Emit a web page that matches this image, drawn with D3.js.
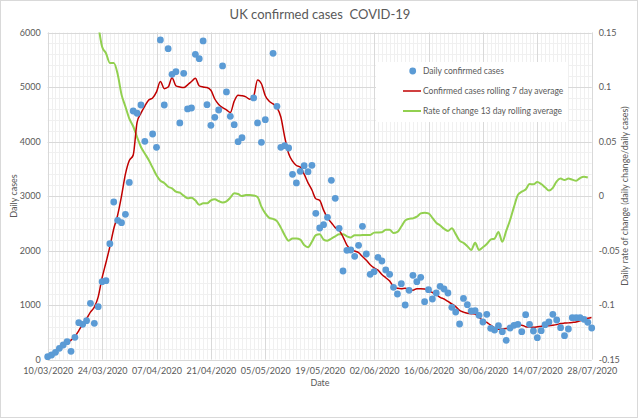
<!DOCTYPE html>
<html>
<head>
<meta charset="utf-8">
<script src="https://cdn.jsdelivr.net/npm/d3@7"></script>
<style>
  body { margin: 0; background: #fff; }
  svg text { font-family: Lato, "Open Sans", sans-serif; fill: #595959; }
</style>
</head>
<body>
<svg id="chart" width="640" height="419"></svg>
<script>
var width = 640;
var height = 419;

// days from 10/03/2020 to 28/07/2020
var firstDay = "10/03/2020";
var lastDay = "28/07/2020";

var dateTicks = ["10/03/2020", "24/03/2020", "07/04/2020", "21/04/2020", "05/05/2020",
  "19/05/2020", "02/06/2020", "16/06/2020", "30/06/2020", "14/07/2020", "28/07/2020"];
var caseTicks = [0, 1000, 2000, 3000, 4000, 5000, 6000];
var rateTicks = [-0.15, -0.1, -0.05, 0, 0.05, 0.1, 0.15];
var rateTickLabels = ["-0.15", "-0.1", "-0.05", "0", "0.05", "0.1", "0.15"];

// daily confirmed cases (null = off the chart / no marker)
var dailyCases = [51, 83, 132, 205, 266, 327, 150, 407, 676, 646,
  712, 1031, 664, 969, 1428, 1446, 2125, 2890, 2554, 2511,
  2664, 3250, 4560, 4518, 4670, 4004, null, 4138, 3894, 5863,
  4670, 5704, 5233, 5282, 4340, 5251, 4597, 4615, 5600, 5520,
  5845, 4676, 4297, 4444, 4578, 5386, 4909, 4462, 4309, 3997,
  4070, null, null, 4799, 4340, 3985, 4400, null, 5618, 4646,
  3894, 3924, 3881, 3398, 3239, 3453, 3557, 3447, 3563, 2682,
  2413, 2474, 2609, 3288, 2958, 2407, 1624, 2004, 2009, 1893,
  2095, 2444, 1936, 1563, 1611, 1875, 1807, 1642, 1563, 1325,
  1202, 1391, 1000, 1270, 1545, 1428, 1508, 1061, 1281, 1110,
  1220, 1343, 1294, 1220, 958, 872, 651, 1120, 1006, 890,
  896, 811, 688, 829, 572, 541, 620, 510, 352, 578,
  627, 646, 510, 822, 646, 523, 400, 529, 639, 688,
  829, 725, 584, 437, 560, 767, 767, 767, 738, 683,
  578];

// 7 day rolling average
var rollingAvg = [50, 100, 150, 200, 240, 300, 355, 420, 530, 650,
  750, 870, 960, 1150, 1500, 1780, 2070, 2400, 2650, 3000,
  3400, 3650, 3750, 4350, 4520, 4650, 4760, 4800, 4910, 5100,
  4970, 5000, 5170, 5020, 5000, 4990, 5040, 5100, 5160, 5020,
  5000, 4990, 4940, 4780, 4680, 4620, 4580, 4530, 4740, 4850,
  4840, 4820, 4775, 4830, 5130, 5060, 4840, 4740, 4690, 4620,
  4450, 4080, 3780, 3640, 3560, 3530, 3400, 3240, 3110, 2950,
  2920, 2740, 2600, 2510, 2420, 2370, 2250, 2100, 2020, 1990,
  1960, 1890, 1820, 1740, 1680, 1640, 1560, 1500, 1440, 1336,
  1306, 1300, 1306, 1285, 1270, 1300, 1300, 1294, 1260, 1230,
  1195, 1140, 1110, 1065, 1020, 970, 900, 870, 850, 840,
  835, 770, 720, 680, 630, 580, 555, 560, 570, 585,
  600, 625, 630, 602, 595, 592, 600, 612, 618, 620,
  628, 640, 660, 668, 672, 680, 690, 710, 738, 755,
  770];

// 13 day rolling average of rate of change, starts on day 13, ends day 139
var rateStart = 13;
var rateAvg = [0.158, 0.137, 0.131, 0.122, 0.122, 0.112, 0.093, 0.082, 0.071, 0.064,
  0.054, 0.045, 0.039, 0.033, 0.026, 0.019, 0.014, 0.012, 0.0085, 0.007,
  0.004, 0.003, 0.0003, -0.002, -0.0015, -0.004, -0.008, -0.0067, -0.0067, -0.004,
  -0.003, -0.0046, -0.006, -0.005, -0.0015, 0.0025, 0.0018, 0, 0.0009, 0.0009,
  0.0005, -0.001, -0.0098, -0.016, -0.020, -0.021, -0.023, -0.029, -0.036, -0.041,
  -0.039, -0.039, -0.040, -0.045, -0.047, -0.042, -0.036, -0.035, -0.040, -0.041,
  -0.039, -0.037, -0.035, -0.035, -0.037, -0.038, -0.036, -0.036, -0.0358, -0.0358,
  -0.0358, -0.0336, -0.0335, -0.0333, -0.031, -0.031, -0.034, -0.033, -0.028, -0.0225,
  -0.021, -0.0205, -0.019, -0.016, -0.0153, -0.016, -0.020, -0.0245, -0.027, -0.030,
  -0.032, -0.0297, -0.035, -0.041, -0.043, -0.046, -0.0495, -0.043, -0.0495, -0.047,
  -0.044, -0.040, -0.039, -0.033, -0.042, -0.032, -0.022, -0.010, 0.001, 0.004,
  0.006, 0.011, 0.0107, 0.0128, 0.011, 0.008, 0.005, 0.0075, 0.0135, 0.016,
  0.0147, 0.016, 0.015, 0.014, 0.0165, 0.0177, 0.017];

var legendNames = ["Daily confirmed cases", "Confirmed cases rolling 7 day average",
  "Rate of change 13 day rolling average"];

var parseDay = d3.timeParse("%d/%m/%Y");
var fmtDay = d3.timeFormat("%d/%m/%Y");
var days = d3.timeDay.range(parseDay(firstDay), d3.timeDay.offset(parseDay(lastDay), 1));

var plotL = 47.7, plotR = 591.7, plotT = 32.5, plotB = 359.5;

var x = d3.scaleTime()
  .domain([parseDay(firstDay), parseDay(lastDay)])
  .range([plotL, plotR]);

var y = d3.scaleLinear()
  .domain([0, 6000])
  .range([plotB, plotT]);

var y2 = d3.scaleLinear()
  .domain([-0.15, 0.15])
  .range([plotB, plotT]);

var svg = d3.select("#chart");

svg.append("rect")
  .attr("x", 0.5).attr("y", 0.5)
  .attr("width", width - 3).attr("height", height - 2)
  .attr("fill", "#fff").attr("stroke", "#d9d9d9");

svg.append("defs").append("clipPath").attr("id", "plotclip")
  .append("rect")
    .attr("x", plotL).attr("y", plotT)
    .attr("width", plotR - plotL).attr("height", plotB - plotT);

// minor gridlines
var grid = svg.append("g");
grid.selectAll(".vminor")
  .data(days)
  .enter().append("line")
    .attr("x1", function(d) { return Math.round(x(d)) + 0.5; })
    .attr("x2", function(d) { return Math.round(x(d)) + 0.5; })
    .attr("y1", plotT).attr("y2", plotB)
    .attr("stroke", "#f0f0f0");
grid.selectAll(".hminor")
  .data(d3.range(0, 6001, 200))
  .enter().append("line")
    .attr("x1", plotL).attr("x2", plotR)
    .attr("y1", function(d) { return Math.round(y(d)) + 0.5; })
    .attr("y2", function(d) { return Math.round(y(d)) + 0.5; })
    .attr("stroke", "#f0f0f0");

// major gridlines
grid.selectAll(".vmajor")
  .data(dateTicks)
  .enter().append("line")
    .attr("x1", function(d) { return Math.round(x(parseDay(d))) + 0.5; })
    .attr("x2", function(d) { return Math.round(x(parseDay(d))) + 0.5; })
    .attr("y1", plotT).attr("y2", plotB)
    .attr("stroke", "#d9d9d9");
grid.selectAll(".hmajor")
  .data(caseTicks)
  .enter().append("line")
    .attr("x1", plotL).attr("x2", plotR)
    .attr("y1", function(d) { return Math.round(y(d)) + 0.5; })
    .attr("y2", function(d) { return Math.round(y(d)) + 0.5; })
    .attr("stroke", "#d9d9d9");

// axes
var xAxis = d3.axisBottom(x)
  .tickValues(dateTicks.map(parseDay))
  .tickFormat(fmtDay)
  .tickSize(0).tickPadding(8);
var gx = svg.append("g").attr("transform", "translate(0," + plotB + ")").call(xAxis);

var yAxis = d3.axisLeft(y).tickValues(caseTicks).tickFormat(d3.format("d"))
  .tickSize(0).tickPadding(7);
var gy = svg.append("g").attr("transform", "translate(" + plotL + ",0)").call(yAxis);

var y2Axis = d3.axisRight(y2).tickValues(rateTicks)
  .tickFormat(function(d, i) { return rateTickLabels[i]; })
  .tickSize(0).tickPadding(7);
var gy2 = svg.append("g").attr("transform", "translate(" + plotR + ",0)").call(y2Axis);

[gx, gy, gy2].forEach(function(g) {
  g.select(".domain").remove();
  g.selectAll("text").attr("font-size", 9).attr("font-family", "Lato, sans-serif").attr("fill", "#595959");
});

// series (lines clipped to the plot area, markers not)
var plot = svg.append("g").attr("clip-path", "url(#plotclip)");

var greenLine = d3.line()
  .x(function(d, i) { return x(days[rateStart + i]); })
  .y(function(d) { return y2(d); })
  .curve(d3.curveMonotoneX);
plot.append("path")
  .datum(rateAvg)
  .attr("d", greenLine)
  .attr("fill", "none").attr("stroke", "#92D050").attr("stroke-width", 2);

var redLine = d3.line()
  .x(function(d, i) { return x(days[i]); })
  .y(function(d) { return y(d); })
  .curve(d3.curveMonotoneX);
plot.append("path")
  .datum(rollingAvg)
  .attr("d", redLine)
  .attr("fill", "none").attr("stroke", "#C00000").attr("stroke-width", 1.5);

svg.append("g").selectAll(".dot")
  .data(dailyCases.map(function(v, i) { return { day: days[i], v: v }; })
    .filter(function(d) { return d.v !== null; }))
  .enter().append("circle")
    .attr("cx", function(d) { return x(d.day); })
    .attr("cy", function(d) { return y(d.v); })
    .attr("r", 3.4)
    .attr("fill", "#5B9BD5");

// legend
var lg = svg.append("g");
lg.append("rect")
  .attr("x", 376).attr("y", 62).attr("width", 192).attr("height", 60)
  .attr("fill", "#fff");
var legendY = [71, 91, 111];
lg.append("circle").attr("cx", 412.7).attr("cy", legendY[0]).attr("r", 3.4).attr("fill", "#5B9BD5");
lg.append("line").attr("x1", 403).attr("x2", 421).attr("y1", legendY[1]).attr("y2", legendY[1])
  .attr("stroke", "#C00000").attr("stroke-width", 1.5);
lg.append("line").attr("x1", 403).attr("x2", 421).attr("y1", legendY[2]).attr("y2", legendY[2])
  .attr("stroke", "#92D050").attr("stroke-width", 2);
lg.selectAll(".ltext")
  .data(legendNames)
  .enter().append("text")
    .attr("x", 423).attr("y", function(d, i) { return legendY[i] + 3; })
    .attr("font-size", 8.5)
    .text(function(d) { return d; });

// titles
svg.append("text")
  .attr("x", 320).attr("y", 19).attr("text-anchor", "middle")
  .attr("font-size", 13)
  .attr("xml:space", "preserve")
  .text("UK confirmed cases  COVID-19");

svg.append("text")
  .attr("x", 320).attr("y", 386).attr("text-anchor", "middle")
  .attr("font-size", 9)
  .text("Date");

svg.append("text")
  .attr("transform", "translate(17," + ((plotT + plotB) / 2) + ") rotate(-90)")
  .attr("text-anchor", "middle")
  .attr("font-size", 9)
  .text("Daily cases");

svg.append("text")
  .attr("transform", "translate(628," + ((plotT + plotB) / 2) + ") rotate(-90)")
  .attr("text-anchor", "middle")
  .attr("font-size", 9)
  .text("Daily rate of change (daily change/daily cases)");
</script>
</body>
</html>
